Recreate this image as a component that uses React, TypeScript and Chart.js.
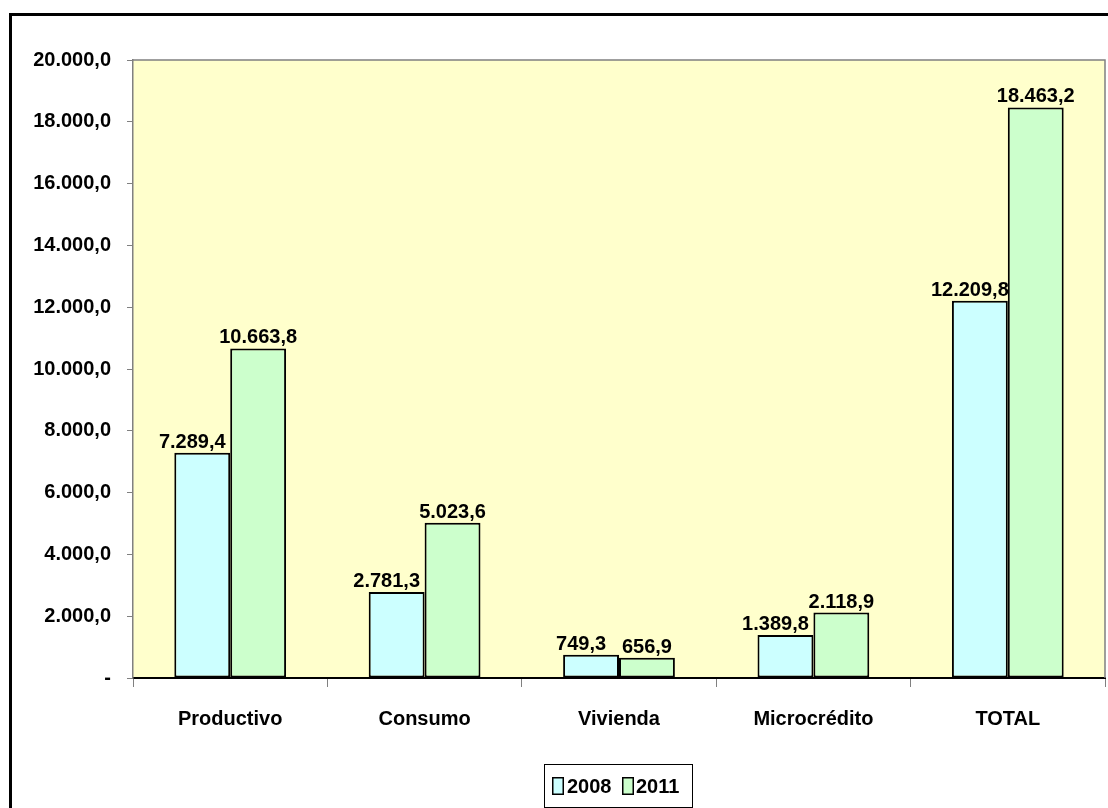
import React, { useEffect, useRef } from "react";
import { Chart, registerables } from "chart.js";

Chart.register(...registerables);

const categories = ["Productivo", "Consumo", "Vivienda", "Microcrédito", "TOTAL"];
const series2008 = [7289.4, 2781.3, 749.3, 1389.8, 12209.8];
const series2011 = [10663.8, 5023.6, 656.9, 2118.9, 18463.2];
const seriesNames = ["2008", "2011"];
const seriesColors = ["#CCFFFF", "#CCFFCC"];
const yMin = 0;
const yMax = 20000;
const yStep = 2000;

const FONT_FAMILY = "'Liberation Sans', Arial, sans-serif";
const FONT_SIZE = 20;

function fmt(v: number): string {
  const fixed = v.toFixed(1);
  const [intPart, dec] = fixed.split(".");
  const withDots = intPart.replace(/\B(?=(\d{3})+(?!\d))/g, ".");
  return withDots + "," + dec;
}

const decorPlugin = {
  id: "decor",
  beforeDraw(chart: any) {
    const { ctx, chartArea } = chart;
    ctx.save();
    ctx.fillStyle = "#ffffff";
    ctx.fillRect(0, 0, chart.width, chart.height);
    ctx.fillStyle = "#FFFFCC";
    ctx.fillRect(chartArea.left, chartArea.top, chartArea.right - chartArea.left, chartArea.bottom - chartArea.top);
    ctx.fillStyle = "#000000";
    ctx.fillRect(9, 13, chart.width, 3);
    ctx.fillRect(9, 13, 3, chart.height);
    ctx.restore();
  },
  afterDraw(chart: any) {
    const { ctx, chartArea } = chart;
    ctx.save();
    ctx.strokeStyle = "#808080";
    ctx.lineWidth = 1.5;
    ctx.beginPath();
    ctx.moveTo(chartArea.left, chartArea.top);
    ctx.lineTo(chartArea.right, chartArea.top);
    ctx.lineTo(chartArea.right, chartArea.bottom);
    ctx.stroke();
    // legend
    const boxX = 544, boxY = 764, boxW = 149, boxH = 44;
    ctx.fillStyle = "#ffffff";
    ctx.fillRect(boxX, boxY, boxW, boxH);
    ctx.strokeStyle = "#000000";
    ctx.lineWidth = 1;
    ctx.strokeRect(boxX + 0.5, boxY + 0.5, boxW - 1, boxH - 1);
    const items = [
      { sx: 552, tx: 567 },
      { sx: 622, tx: 636 },
    ];
    ctx.font = `bold 20px ${FONT_FAMILY}`;
    ctx.textBaseline = "middle";
    ctx.textAlign = "left";
    items.forEach((it, i) => {
      ctx.fillStyle = seriesColors[i];
      ctx.fillRect(it.sx, 777, 12, 18);
      ctx.strokeStyle = "#000000";
      ctx.lineWidth = 1.5;
      ctx.strokeRect(it.sx + 0.75, 777.75, 10.5, 16.5);
      ctx.fillStyle = "#000000";
      ctx.fillText(seriesNames[i], it.tx, 787);
    });
    ctx.restore();
  },
  afterDatasetsDraw(chart: any) {
    const { ctx } = chart;
    ctx.save();
    ctx.font = `bold ${FONT_SIZE}px ${FONT_FAMILY}`;
    ctx.fillStyle = "#000000";
    ctx.textAlign = "center";
    ctx.textBaseline = "alphabetic";
    chart.data.datasets.forEach((ds: any, di: number) => {
      const meta = chart.getDatasetMeta(di);
      const dx = di === 0 ? -10 : 0;
      meta.data.forEach((bar: any, i: number) => {
        ctx.fillText(fmt(ds.data[i]), bar.x + dx, bar.y - 5);
      });
    });
    ctx.restore();
  },
};

export default function App() {
  const ref = useRef<HTMLCanvasElement | null>(null);
  useEffect(() => {
    if (!ref.current) return;
    const chart = new Chart(ref.current, {
      type: "bar",
      data: {
        labels: categories,
        datasets: [
          {
            label: seriesNames[0],
            data: series2008,
            backgroundColor: seriesColors[0],
            borderColor: "#000000",
            borderWidth: 2,
            borderSkipped: false,
            categoryPercentage: 0.575,
            barPercentage: 1,
          },
          {
            label: seriesNames[1],
            data: series2011,
            backgroundColor: seriesColors[1],
            borderColor: "#000000",
            borderWidth: 2,
            borderSkipped: false,
            categoryPercentage: 0.575,
            barPercentage: 1,
          },
        ],
      },
      options: {
        animation: false,
        responsive: false,
        maintainAspectRatio: false,
        layout: { padding: { top: 60, right: 3, left: 0, bottom: 0 } },
        plugins: {
          legend: { display: false },
          tooltip: { enabled: false },
        },
        scales: {
          x: {
            grid: {
              drawOnChartArea: false,
              drawTicks: true,
              tickLength: 9,
              color: "#808080",
              offset: true,
            },
            border: { color: "#000000", width: 2 },
            ticks: {
              color: "#000000",
              font: { family: FONT_FAMILY, size: FONT_SIZE, weight: "bold" },
              padding: 20,
              maxRotation: 0,
            },
            afterFit(scale: any) {
              scale.height = 130;
            },
          },
          y: {
            min: yMin,
            max: yMax,
            grid: {
              drawOnChartArea: false,
              drawTicks: true,
              tickLength: 6,
              color: "#808080",
            },
            border: { color: "#808080", width: 1.5 },
            ticks: {
              stepSize: yStep,
              color: "#000000",
              padding: 16,
              font: { family: FONT_FAMILY, size: FONT_SIZE, weight: "bold" },
              callback: (v: any) => (Number(v) === 0 ? "-" : fmt(Number(v))),
            },
            afterFit(scale: any) {
              scale.width = 133;
            },
          },
        },
      },
      plugins: [decorPlugin],
    });
    return () => chart.destroy();
  }, []);
  return (
    <div style={{ position: "fixed", left: 0, top: 0, width: 1108, height: 808, background: "#fff" }}>
      <canvas ref={ref} width={1108} height={808} style={{ display: "block" }} />
    </div>
  );
}
